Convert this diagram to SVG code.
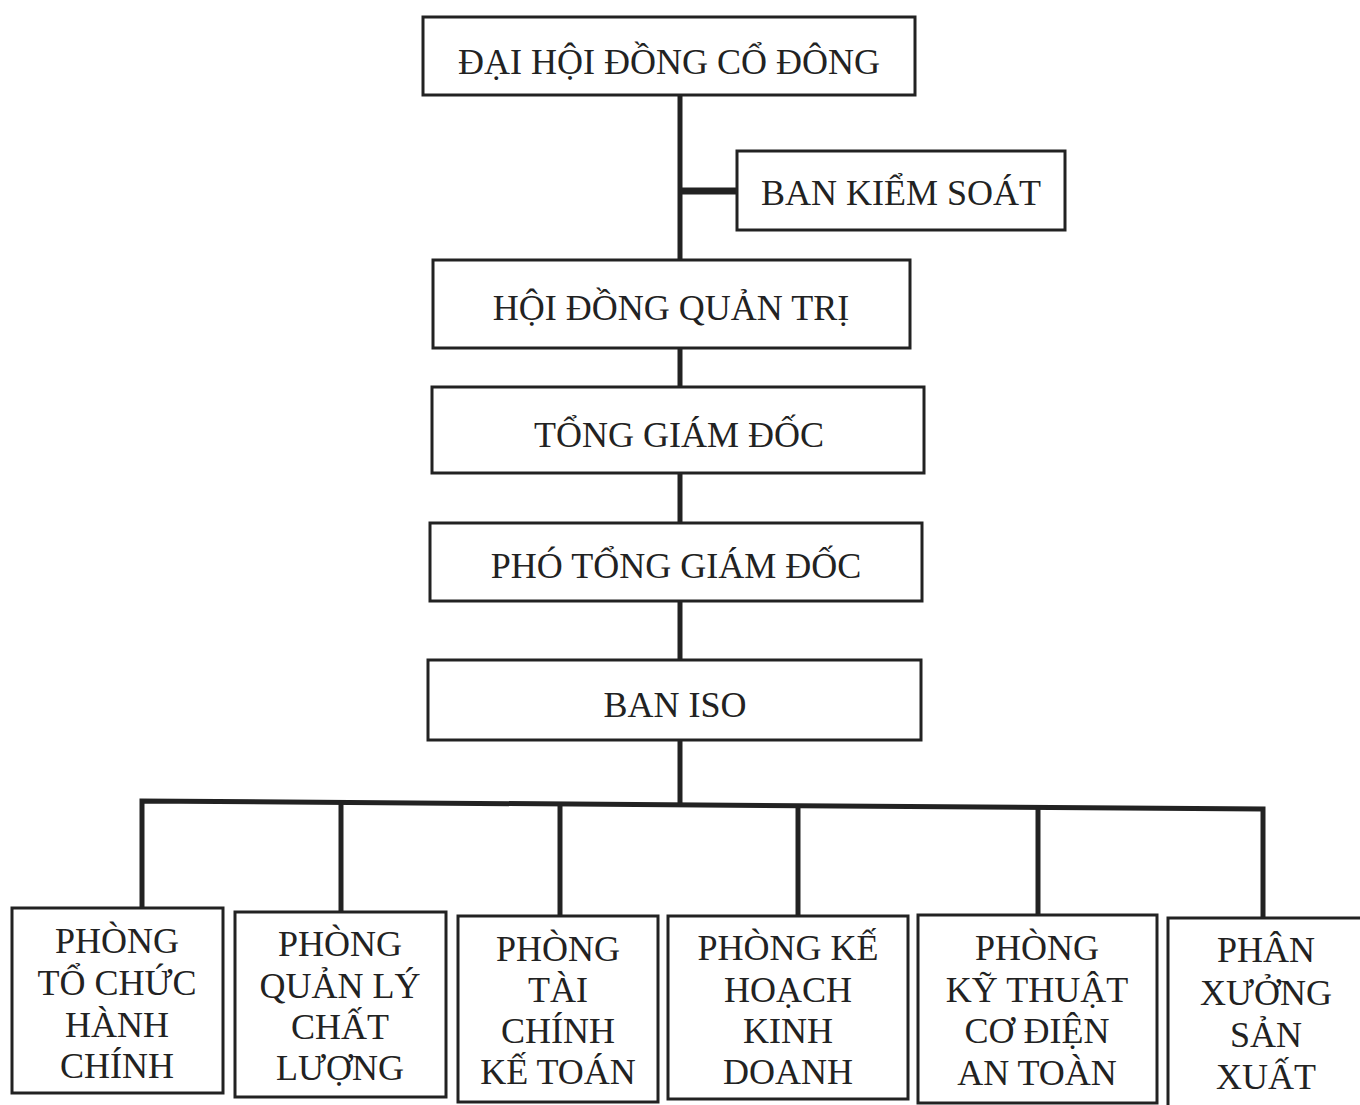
<svg xmlns="http://www.w3.org/2000/svg" width="1360" height="1105" viewBox="0 0 1360 1105">
<style>
.box{fill:#fff;stroke:#222;stroke-width:3}
.t{font-family:"Liberation Serif","Times New Roman",serif;font-size:36px;fill:#222;text-anchor:middle}
.c{stroke:#222;stroke-width:5;fill:none}
</style>
<rect width="1360" height="1105" fill="#fff"/>
<g id="connectors">
<line class="c" x1="680" y1="95" x2="680" y2="806"/>
<line class="c" x1="680" y1="191" x2="737" y2="191" style="stroke-width:7"/>
<path class="c" d="M142 908 V801 L1263 809 V918"/>
<line class="c" x1="341" y1="802" x2="341" y2="912"/>
<line class="c" x1="560" y1="804" x2="560" y2="916"/>
<line class="c" x1="798" y1="806" x2="798" y2="916"/>
<line class="c" x1="1038" y1="807" x2="1038" y2="915"/>
</g>
<g id="n1"><rect class="box" x="423" y="17" width="492" height="78"/><text class="t" x="669" y="74">ĐẠI HỘI ĐỒNG CỔ ĐÔNG</text></g>
<g id="n2"><rect class="box" x="737" y="151" width="328" height="79"/><text class="t" x="901" y="205">BAN KIỂM SOÁT</text></g>
<g id="n3"><rect class="box" x="433" y="260" width="477" height="88"/><text class="t" x="671" y="320">HỘI ĐỒNG QUẢN TRỊ</text></g>
<g id="n4"><rect class="box" x="432" y="387" width="492" height="86"/><text class="t" x="679" y="447">TỔNG GIÁM ĐỐC</text></g>
<g id="n5"><rect class="box" x="430" y="523" width="492" height="78"/><text class="t" x="676" y="578">PHÓ TỔNG GIÁM ĐỐC</text></g>
<g id="n6"><rect class="box" x="428" y="660" width="493" height="80"/><text class="t" x="675" y="717">BAN ISO</text></g>
<g id="b1"><rect class="box" x="12" y="908" width="211" height="185"/>
<text class="t" x="117" y="953">PHÒNG</text><text class="t" x="117" y="995">TỔ CHỨC</text><text class="t" x="117" y="1037">HÀNH</text><text class="t" x="117" y="1078">CHÍNH</text></g>
<g id="b2"><rect class="box" x="235" y="912" width="211" height="185"/>
<text class="t" x="340" y="956">PHÒNG</text><text class="t" x="340" y="998">QUẢN LÝ</text><text class="t" x="340" y="1039">CHẤT</text><text class="t" x="340" y="1080">LƯỢNG</text></g>
<g id="b3"><rect class="box" x="458" y="916" width="200" height="186"/>
<text class="t" x="558" y="961">PHÒNG</text><text class="t" x="558" y="1002">TÀI</text><text class="t" x="558" y="1043">CHÍNH</text><text class="t" x="558" y="1084">KẾ TOÁN</text></g>
<g id="b4"><rect class="box" x="668" y="916" width="240" height="183"/>
<text class="t" x="788" y="960">PHÒNG KẾ</text><text class="t" x="788" y="1002">HOẠCH</text><text class="t" x="788" y="1043">KINH</text><text class="t" x="788" y="1084">DOANH</text></g>
<g id="b5"><rect class="box" x="918" y="915" width="239" height="188"/>
<text class="t" x="1037" y="960">PHÒNG</text><text class="t" x="1037" y="1002">KỸ THUẬT</text><text class="t" x="1037" y="1043">CƠ ĐIỆN</text><text class="t" x="1037" y="1085">AN TOÀN</text></g>
<g id="b6"><rect class="box" x="1168" y="918" width="200" height="190"/>
<text class="t" x="1266" y="962">PHÂN</text><text class="t" x="1266" y="1005">XƯỞNG</text><text class="t" x="1266" y="1047">SẢN</text><text class="t" x="1266" y="1089">XUẤT</text></g>
</svg>
